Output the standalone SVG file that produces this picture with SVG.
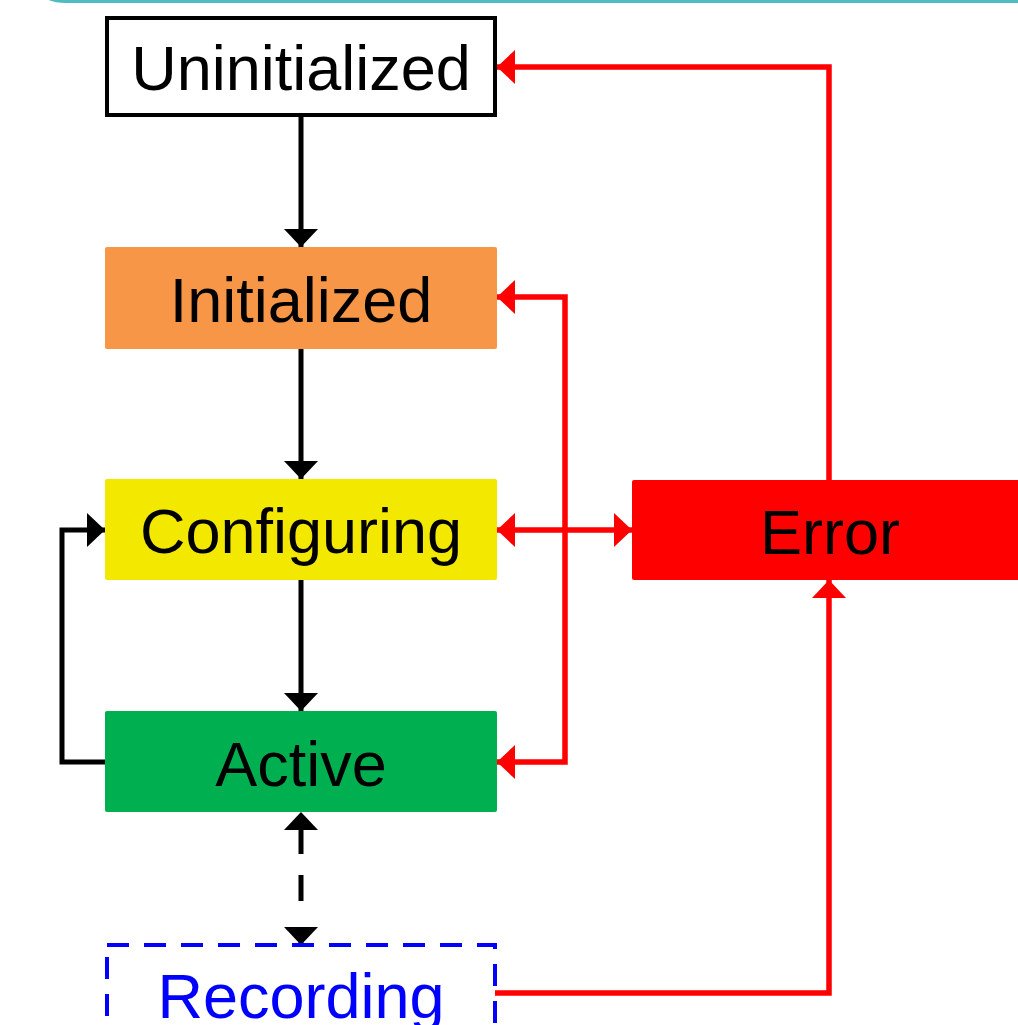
<svg xmlns="http://www.w3.org/2000/svg" width="1018" height="1025" viewBox="0 0 1018 1025">
<style>
  .lbl { font-family: "Liberation Sans", Arial, sans-serif; font-size: 63px; text-anchor: middle; fill: #000; }
  .blk { stroke: #000; stroke-width: 5; fill: none; }
  .red { stroke: #ff0000; stroke-width: 5.5; fill: none; }
</style>
<defs>
  <marker id="ab" viewBox="0 0 18 34" refX="18" refY="17" markerWidth="18" markerHeight="34" markerUnits="userSpaceOnUse" orient="auto-start-reverse">
    <path d="M0,0 L18,17 L0,34 z" fill="#000"/>
  </marker>
  <marker id="ar" viewBox="0 0 18 34" refX="18" refY="17" markerWidth="18" markerHeight="34" markerUnits="userSpaceOnUse" orient="auto-start-reverse">
    <path d="M0,0 L18,17 L0,34 z" fill="#ff0000"/>
  </marker>
</defs>
<rect width="1018" height="1025" fill="#fff"/>
<path d="M38,-12 Q44,1.5 66,1.5 L1020,1.5" stroke="#4fbcc2" stroke-width="3" fill="none"/>

<g id="connectors">
  <path class="blk" d="M301,115 L301,247" marker-end="url(#ab)"/>
  <path class="blk" d="M301,349 L301,479" marker-end="url(#ab)"/>
  <path class="blk" d="M301,580 L301,711" marker-end="url(#ab)"/>
  <path class="blk" d="M110,762 L62,762 L62,530 L105,530" marker-end="url(#ab)"/>
  <path class="blk" d="M301,812 L301,945" stroke-dasharray="0 18 24 21 26 22" marker-start="url(#ab)" marker-end="url(#ab)"/>
  <path class="red" d="M829,480 L829,67 L497,67" marker-end="url(#ar)"/>
  <path class="red" d="M497,297 L565,297 L565,762 L497,762" marker-start="url(#ar)" marker-end="url(#ar)"/>
  <path class="red" d="M497,530 L632,530" marker-start="url(#ar)" marker-end="url(#ar)"/>
  <path class="red" d="M495,993 L829,993 L829,580" marker-end="url(#ar)"/>
</g>

<g id="uninitialized">
  <rect x="107" y="18" width="388" height="97" fill="#fff" stroke="#000" stroke-width="4"/>
  <text class="lbl" x="301" y="90">Uninitialized</text>
</g>
<g id="initialized">
  <rect x="105" y="247" width="392" height="102" rx="2" fill="#f79646"/>
  <text class="lbl" x="301" y="322">Initialized</text>
</g>
<g id="configuring">
  <rect x="105" y="479" width="392" height="101" rx="2" fill="#f2e800"/>
  <text class="lbl" x="301" y="553">Configuring</text>
</g>
<g id="active">
  <rect x="105" y="711" width="392" height="101" rx="2" fill="#00b050"/>
  <text class="lbl" x="301" y="786">Active</text>
</g>
<g id="error">
  <rect x="632" y="480" width="400" height="100" rx="2" fill="#ff0000"/>
  <text class="lbl" x="830" y="554">Error</text>
</g>
<g id="recording">
  <rect x="107" y="945" width="388" height="110" fill="#fff" stroke="#0000ff" stroke-width="4" stroke-dasharray="22 15"/>
  <text class="lbl" x="301" y="1018" style="fill:#0000ff">Recording</text>
</g>
</svg>
